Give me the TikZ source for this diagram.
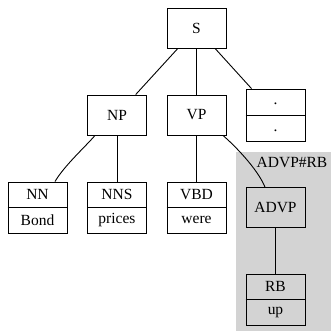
\documentclass[tikz,border=0pt]{standalone}
\usepackage{fontspec}
\setmainfont{Liberation Serif}
\begin{document}
\begin{tikzpicture}[x=1pt,y=-1pt,
  box/.style={draw, line width=0.9pt, minimum width=59pt, minimum height=40pt, inner sep=0pt},
  rec/.style={draw, line width=0.9pt, minimum width=59pt, minimum height=51pt, inner sep=0pt},
  txt/.style={inner sep=0pt, font=\fontsize{15.5}{18}\selectfont},
  edge/.style={line width=0.9pt}]
\useasboundingbox (0,0) rectangle (332,333);
\fill[fill={rgb,255:red,211;green,211;blue,211}] (236,152) rectangle (331,331);
\node[txt] (lbl) at (292,162) {ADVP\#RB};
% internal nodes
\node[box] (S) at (196.5,28) {};
\node[txt] (St) at (196.5,28) {S};
\node[box] (NP) at (117,115) {};
\node[txt] (NPt) at (117,115) {NP};
\node[box] (VP) at (196.5,115) {};
\node[txt] (VPt) at (196.5,115) {VP};
\node[box] (ADVP) at (275.5,207.5) {};
\node[txt] (ADVPt) at (275.5,207.5) {ADVP};
% records
\node[rec, minimum height=52pt] (P) at (275.5,115) {};
\draw[edge] (P.west) -- (P.east);
\node[txt] (P1) at (275.5,104) {.};
\node[txt] (P2) at (275.5,130.5) {.};
\node[rec] (NN) at (37.5,207.5) {};
\draw[edge] (NN.west) -- (NN.east);
\node[txt] (NN1) at (37.5,194.5) {NN};
\node[txt] (NN2) at (37.5,220) {Bond};
\node[rec] (NNS) at (117,207.5) {};
\draw[edge] (NNS.west) -- (NNS.east);
\node[txt] (NNS1) at (117,194.5) {NNS};
\node[txt] (NNS2) at (117,220) {prices};
\node[rec] (VBD) at (196.5,207.5) {};
\draw[edge] (VBD.west) -- (VBD.east);
\node[txt] (VBD1) at (196.5,194.5) {VBD};
\node[txt] (VBD2) at (196.5,220) {were};
\node[rec] (RB) at (275.5,299.5) {};
\draw[edge] (RB.west) -- (RB.east);
\node[txt] (RB1) at (275.5,286.5) {RB};
\node[txt] (RB2) at (275.5,312) {up};
% edges
\draw[edge] (S) -- (NP);
\draw[edge] (S) -- (VP);
\draw[edge] (S) -- (P);
\draw[edge] ([xshift=-22pt]NP.south) .. controls (86,146) and (64,166) .. ([xshift=17.5pt]NN.north);
\draw[edge] (NP) -- (NNS);
\draw[edge] (VP) -- (VBD);
\draw[edge] ([xshift=26.5pt]VP.south) .. controls (234,145) and (257,168) .. ([xshift=-10.5pt]ADVP.north);
\draw[edge] (ADVP) -- (RB);
\end{tikzpicture}
\end{document}
